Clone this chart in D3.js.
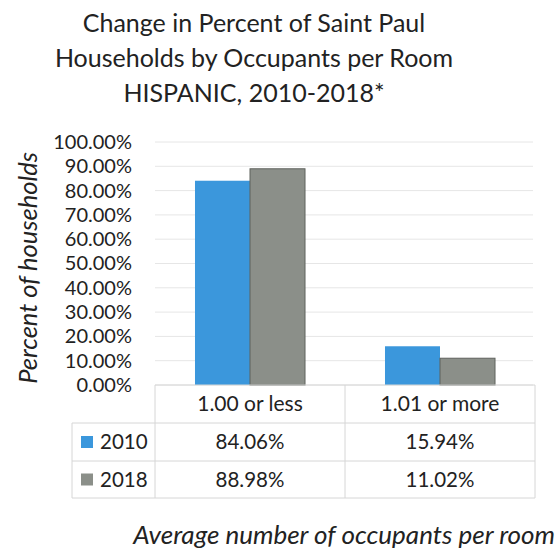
<!DOCTYPE html>
<html>
<head>
<meta charset="utf-8">
<script src="https://cdn.jsdelivr.net/npm/d3@7"></script>
<style>
  html, body { margin: 0; padding: 0; background: #fff; }
  svg text { font-family: Lato, "Open Sans", sans-serif; fill: #222; }
</style>
</head>
<body>
<svg id="chart" width="560" height="554"></svg>
<script>
// Occupants-per-room categories and share of Hispanic households by year
const categories = ["1.00 or less", "1.01 or more"];
const years = ["2010", "2018"];
const values2010 = [0.8406, 0.1594];
const values2018 = [0.8898, 0.1102];
const yTicks = [0, 0.1, 0.2, 0.3, 0.4, 0.5, 0.6, 0.7, 0.8, 0.9, 1.0];
const titleLines = ["Change in Percent of Saint Paul", "Households by Occupants per Room", "HISPANIC, 2010-2018*"];

const colors = { "2010": "#3b97dc", "2018": "#8b8f89" };
const series = { "2010": values2010, "2018": values2018 };

const svg = d3.select("#chart");
const plot = { left: 155, right: 535, top: 142, bottom: 385 };

const x0 = d3.scaleBand().domain(categories).range([plot.left, plot.right]).padding(0);
const x1 = d3.scaleBand().domain(years).range([0, x0.bandwidth()]).paddingInner(0).paddingOuter(0.727);
const y = d3.scaleLinear().domain([0, 1]).range([plot.bottom, plot.top]);

// Title
svg.append("g").selectAll("text").data(titleLines).join("text")
  .attr("x", 254).attr("y", (d, i) => 32 + i * 35)
  .attr("text-anchor", "middle").style("font-size", "25px")
  .text(d => d);

// Gridlines
svg.append("g").selectAll("line").data(yTicks).join("line")
  .attr("x1", plot.left).attr("x2", plot.right - 2)
  .attr("y1", d => y(d)).attr("y2", d => y(d))
  .attr("stroke", "#e6e6e6").attr("stroke-width", 1);

// Y axis labels
const yAxis = d3.axisLeft(y).tickValues(yTicks).tickSize(0).tickPadding(0)
  .tickFormat(d => (d * 100).toFixed(2) + "%");
const gy = svg.append("g").attr("transform", "translate(132,0)").call(yAxis);
gy.select(".domain").remove();
gy.selectAll("text").style("font-size", "20px").style("font-family", "Lato, sans-serif").attr("fill", "#222");

// Y axis title
svg.append("text")
  .attr("transform", "translate(37,268) rotate(-90)")
  .attr("text-anchor", "middle").style("font-size", "25.5px").style("font-style", "italic")
  .text("Percent of households");

// Bars
const groups = svg.append("g").selectAll("g").data(categories).join("g")
  .attr("transform", d => `translate(${x0(d)},0)`);
groups.selectAll("rect").data((d, i) => years.map(yr => ({ yr, v: series[yr][i] }))).join("rect")
  .attr("x", d => x1(d.yr)).attr("width", x1.bandwidth())
  .attr("y", d => y(d.v)).attr("height", d => y(0) - y(d.v))
  .attr("fill", d => colors[d.yr])
  .attr("stroke", d => d.yr === "2018" ? "#5f625d" : "none").attr("stroke-width", 1);

// Data table below the plot
const rowTops = [385, 423, 461, 498];
const legendLeft = 72;
const table = svg.append("g").attr("stroke", "#d6d6d6").attr("stroke-width", 1);
// horizontal rules
table.append("line").attr("x1", plot.left).attr("x2", plot.right).attr("y1", rowTops[0]).attr("y2", rowTops[0]);
[1, 2, 3].forEach(i => table.append("line").attr("x1", legendLeft).attr("x2", plot.right).attr("y1", rowTops[i]).attr("y2", rowTops[i]));
// vertical rules
table.append("line").attr("x1", legendLeft).attr("x2", legendLeft).attr("y1", rowTops[1]).attr("y2", rowTops[3]);
categories.forEach(c => table.append("line").attr("x1", x0(c)).attr("x2", x0(c)).attr("y1", rowTops[0]).attr("y2", rowTops[3]));
table.append("line").attr("x1", plot.right).attr("x2", plot.right).attr("y1", rowTops[0]).attr("y2", rowTops[3]);

// header row: category names
svg.append("g").selectAll("text").data(categories).join("text")
  .attr("x", d => x0(d) + x0.bandwidth() / 2).attr("y", (rowTops[0] + rowTops[1]) / 2 + 7)
  .attr("text-anchor", "middle").style("font-size", "21px").text(d => d);

// value rows with legend keys
years.forEach((yr, r) => {
  const top = rowTops[r + 1], mid = (top + rowTops[r + 2]) / 2;
  svg.append("rect").attr("x", 81).attr("y", mid - 6).attr("width", 12).attr("height", 12)
    .attr("fill", colors[yr]);
  svg.append("text").attr("x", 100).attr("y", mid + 7).style("font-size", "20.5px").text(yr);
  svg.append("g").selectAll("text").data(categories).join("text")
    .attr("x", d => x0(d) + x0.bandwidth() / 2).attr("y", mid + 7)
    .attr("text-anchor", "middle").style("font-size", "20.5px")
    .text((d, i) => (series[yr][i] * 100).toFixed(2) + "%");
});

// X axis title
svg.append("text").attr("x", 555).attr("y", 544).attr("text-anchor", "end")
  .style("font-size", "26px").style("font-style", "italic")
  .text("Average number of occupants per room");
</script>
</body>
</html>
